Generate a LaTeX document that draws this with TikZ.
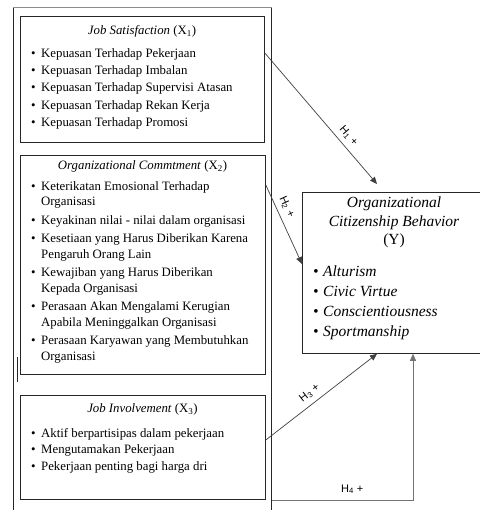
\documentclass[tikz,border=0pt]{standalone}
\usepackage{fontspec}
\setmainfont{Liberation Serif}
\setsansfont{Liberation Sans}
\usetikzlibrary{arrows.meta}
\tikzset{varbox/.style = {draw = black!85, line width = 0.8pt, anchor = north west, inner sep = 0}}
\tikzset{itemline/.style = {anchor = mid west, inner sep = 0, font = \fontsize{12.8}{15}\selectfont}}
\tikzset{boxhead/.style = {anchor = mid, inner sep = 0, font = \fontsize{12.8}{15}\selectfont}}
\tikzset{yline/.style = {anchor = mid, inner sep = 0, font = \fontsize{15.5}{18}\selectfont}}
\tikzset{yitem/.style = {anchor = mid west, inner sep = 0, font = \fontsize{15.5}{18}\selectfont\itshape}}
\tikzset{hyp/.style = {draw = black!75, line width = 0.7pt, -{Triangle[length = 7pt, width = 6pt]}}}
\tikzset{hlabel/.style = {font = \sffamily\fontsize{11}{13}\selectfont, inner sep = 2pt}}
\newcommand{\bul}{\makebox[10pt][l]{\textbullet}}

\begin{document}
\begin{tikzpicture}[x = 1pt, y = -1pt]
  \useasboundingbox (0, 0) rectangle (479, 510);
  % outer frame and boxes
  \node [varbox, minimum width = 258, minimum height = 520] (frame) at (13, 7) {};
  \draw [black!45, line width = 0.8pt] (frame.north west) -- (frame.north east);
  \draw [black!85, line width = 0.8pt] (17, 357) -- (17, 382);
  \node [varbox, minimum width = 244, minimum height = 126] (x1) at (20, 16) {};
  \node [varbox, minimum width = 245, minimum height = 219] (x2) at (20, 155) {};
  \node [varbox, minimum width = 245, minimum height = 104] (x3) at (20, 395) {};
  \node [varbox, minimum width = 184, minimum height = 161] (yb) at (302, 192) {};

  % X1
  \node [boxhead] (x1head) at (142, 32) {\textit{Job Satisfaction} (X\textsubscript{1})};
  \node [itemline] (x1a) at (31, 55) {\bul Kepuasan Terhadap Pekerjaan};
  \node [itemline] (x1b) at (31, 72.3) {\bul Kepuasan Terhadap Imbalan};
  \node [itemline] (x1c) at (31, 89.5) {\bul Kepuasan Terhadap Supervisi Atasan};
  \node [itemline] (x1d) at (31, 106.8) {\bul Kepuasan Terhadap Rekan Kerja};
  \node [itemline] (x1e) at (31, 124) {\bul Kepuasan Terhadap Promosi};

  % X2
  \node [boxhead] (x2head) at (142.5, 167) {\textit{Organizational Commtment} (X\textsubscript{2})};
  \node [itemline] (x2a) at (31, 188) {\bul Keterikatan Emosional Terhadap};
  \node [itemline] (x2a2) at (41, 203.5) {Organisasi};
  \node [itemline] (x2b) at (31, 222) {\bul Keyakinan nilai - nilai dalam organisasi};
  \node [itemline] (x2c) at (31, 240.5) {\bul Kesetiaan yang Harus Diberikan Karena};
  \node [itemline] (x2c2) at (41, 256) {Pengaruh Orang Lain};
  \node [itemline] (x2d) at (31, 274.5) {\bul Kewajiban yang Harus Diberikan};
  \node [itemline] (x2d2) at (41, 290) {Kepada Organisasi};
  \node [itemline] (x2e) at (31, 308.5) {\bul Perasaan Akan Mengalami Kerugian};
  \node [itemline] (x2e2) at (41, 324) {Apabila Meninggalkan Organisasi};
  \node [itemline] (x2f) at (31, 342.5) {\bul Perasaan Karyawan yang Membutuhkan};
  \node [itemline] (x2f2) at (41, 358) {Organisasi};

  % X3
  \node [boxhead] (x3head) at (142.5, 410) {\textit{Job Involvement} (X\textsubscript{3})};
  \node [itemline] (x3a) at (31, 435) {\bul Aktif berpartisipas dalam pekerjaan};
  \node [itemline] (x3b) at (31, 451.5) {\bul Mengutamakan Pekerjaan};
  \node [itemline] (x3c) at (31, 468) {\bul Pekerjaan penting bagi harga dri};

  % Y
  \node [yline] (yhead1) at (394, 205) {\textit{Organizational}};
  \node [yline] (yhead2) at (394, 224) {\textit{Citizenship Behavior}};
  \node [yline] (yhead3) at (394, 242) {(Y)};
  \node [yitem] (ya) at (313, 274) {\bul Alturism};
  \node [yitem] (yb1) at (313, 294) {\bul Civic Virtue};
  \node [yitem] (yc) at (313, 314) {\bul Conscientiousness};
  \node [yitem] (yd) at (313, 334) {\bul Sportmanship};

  % hypotheses
  \coordinate (h1tip) at (377, 184);
  \draw [hyp] (x1.east |- 0, 53) -- (h1tip)
    node [hlabel, pos = 0.68, sloped, above = 3pt] {H\textsubscript{1} +};
  \draw [hyp] (x2.east |- 0, 185) -- (yb.west |- 0, 264)
    node [hlabel, pos = 0.33, sloped, above = 3pt] {H\textsubscript{2} +};
  \draw [hyp] (x3.east |- 0, 440) -- (yb.south -| 377, 0)
    node [hlabel, pos = 0.45, sloped, above = 3pt] {H\textsubscript{3} +};
  \draw [hyp, draw = black!55] (frame.east |- 0, 500) -| (yb.south -| 413, 0)
    node [hlabel, pos = 0.285, above = 4pt] {H\textsubscript{4} +};
\end{tikzpicture}
\end{document}
